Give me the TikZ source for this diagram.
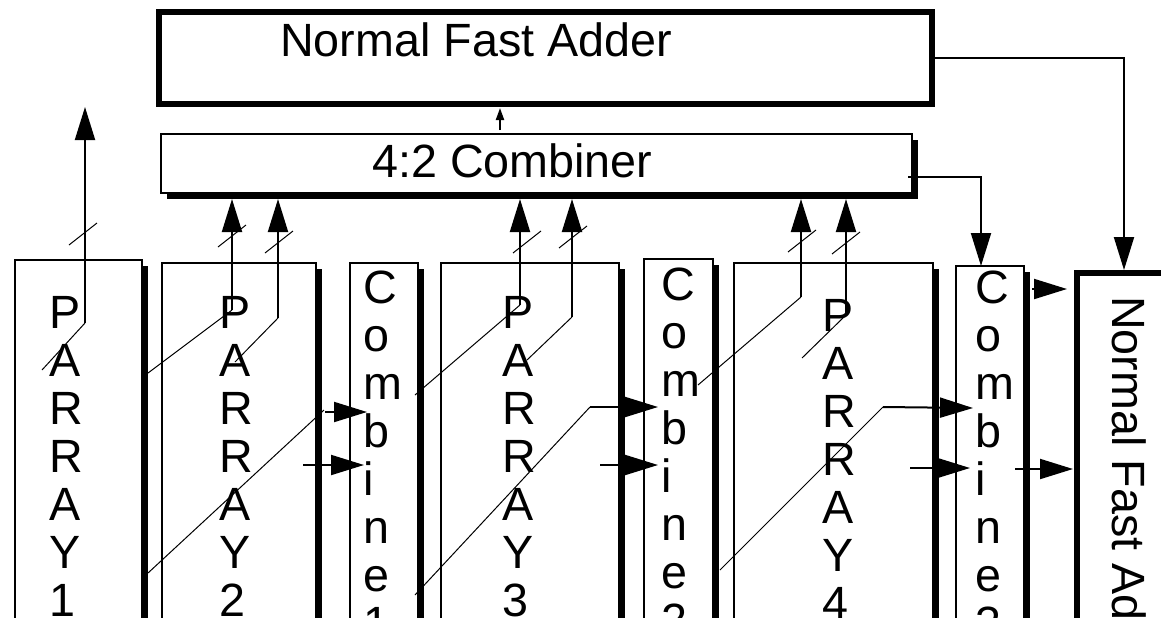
\documentclass[tikz,border=0pt]{standalone}
\usepackage{fontspec}
\setmainfont{Liberation Sans}
\usetikzlibrary{arrows.meta,shadows,fit}
\begin{document}
\begin{tikzpicture}[x=0.75pt,y=-0.75pt,
  box/.style={draw, line width=1.5pt, fill=white, inner sep=0pt,
    drop shadow={shadow xshift=4.5pt, shadow yshift=-4.5pt, fill=black, opacity=1}},
  thickbox/.style={draw, line width=4.5pt, fill=white, inner sep=0pt},
  lbl/.style={inner sep=0pt, font=\fontsize{35}{36}\selectfont, align=left},
  big/.style={line width=1.5pt, -{Triangle[length=24.75pt,width=15pt]}},
  small/.style={line width=1.5pt, -{Triangle[length=9pt,width=6pt]}},
  wire/.style={line width=0.75pt},
  busmark/.pic={\draw[line width=0.75pt] (-14,11) -- (14,-11);}
]
\clip (0,0) rectangle (1161,618);
\fill[white] (0,0) rectangle (1161,618);

% boxes
\node[thickbox, fit={(159,12) (932,104)}] (nfa) {};
\node[box, fit={(161,134) (912,193)}] (comb) {};
\node[box, fit={(15,260) (142,700)}] (p1) {};
\node[box, fit={(162,263) (316,700)}] (p2) {};
\node[box, fit={(350,263) (418,700)}] (c1) {};
\node[box, fit={(441,263) (619,700)}] (p3) {};
\node[box, fit={(644,259) (713,700)}] (c2) {};
\node[box, fit={(734,263) (933,700)}] (p4) {};
\node[box, fit={(956,266) (1024,700)}] (c3) {};
\node[thickbox, fit={(1077,273) (1250,700)}] (nfa2) {};

% labels (base anchor = baseline of the last line)
\node[lbl, anchor=base west] (tnfa) at (280,56) {Normal Fast Adder};
\node[lbl, anchor=base west] (tcomb) at (372,177) {4:2 Combiner};
\node[lbl, anchor=base west] (tp1) at (49,616) {P\\A\\R\\R\\A\\Y\\1};
\node[lbl, anchor=base west] (tp2) at (219,616) {P\\A\\R\\R\\A\\Y\\2};
\node[lbl, anchor=base west] (tp3) at (502,616) {P\\A\\R\\R\\A\\Y\\3};
\node[lbl, anchor=base west] (tp4) at (822,619) {P\\A\\R\\R\\A\\Y\\4};
\node[lbl, anchor=base west] (tc1) at (363,639) {C\\o\\m\\b\\i\\n\\e\\1};
\node[lbl, anchor=base west] (tc2) at (661,636) {C\\o\\m\\b\\i\\n\\e\\2};
\node[lbl, anchor=base west] (tc3) at (975,639) {C\\o\\m\\b\\i\\n\\e\\3};
\node[lbl, rotate=-90, anchor=base west] (tnfa2) at (1112,296) {Normal Fast Adder};

% coordinates
\coordinate (u1) at (500,130); \coordinate (u2) at (500,108);
\coordinate (r1) at (1124,270);
\coordinate (cr0) at (908,177); \coordinate (cr1) at (981,266);
\coordinate (a1s) at (85,323); \coordinate (a1t) at (85,107); \coordinate (a1d) at (42,370);
\coordinate (a2s) at (232,310); \coordinate (a2t) at (232,199); \coordinate (a2d) at (148,373);
\coordinate (a3s) at (278,318); \coordinate (a3t) at (278,199); \coordinate (a3d) at (235,362);
\coordinate (a4s) at (520,305); \coordinate (a4t) at (520,199); \coordinate (a4d) at (415,395);
\coordinate (a5s) at (572,317); \coordinate (a5t) at (572,199); \coordinate (a5d) at (527,360);
\coordinate (a6s) at (801,297); \coordinate (a6t) at (801,199); \coordinate (a6d) at (698,385);
\coordinate (a7s) at (846,315); \coordinate (a7t) at (846,199); \coordinate (a7d) at (802,358);
\coordinate (h1d) at (148,573); \coordinate (h1k) at (324,410); \coordinate (h1s) at (325,412); \coordinate (h1t) at (367,412);
\coordinate (h2s) at (303,465); \coordinate (h2t) at (364,465);
\coordinate (h3d) at (415,595); \coordinate (h3s) at (590,407); \coordinate (h3t) at (658,407);
\coordinate (h4s) at (600,465); \coordinate (h4t) at (658,465);
\coordinate (h5d) at (720,570); \coordinate (h5s) at (883,407); \coordinate (h5t) at (973,408);
\coordinate (h6s) at (910,468); \coordinate (h6t) at (970,468);
\coordinate (o1s) at (1032,289); \coordinate (o1t) at (1067,289);
\coordinate (o2s) at (1015,469); \coordinate (o2t) at (1073,469);

% connectors
\draw[small] (u1) -- (u2);
\draw[big] (nfa.east) -| (r1);
\draw[big] (cr0) -| (cr1);
\draw[big] (a1s) -- (a1t); \draw[wire] (a1s) -- (a1d);
\draw[big] (a2s) -- (a2t); \draw[wire] (a2s) -- (a2d);
\draw[big] (a3s) -- (a3t); \draw[wire] (a3s) -- (a3d);
\draw[big] (a4s) -- (a4t); \draw[wire] (a4s) -- (a4d);
\draw[big] (a5s) -- (a5t); \draw[wire] (a5s) -- (a5d);
\draw[big] (a6s) -- (a6t); \draw[wire] (a6s) -- (a6d);
\draw[big] (a7s) -- (a7t); \draw[wire] (a7s) -- (a7d);
\pic at (83,234) {busmark};
\pic at (232,236) {busmark};
\pic at (279,242) {busmark};
\pic at (527,242) {busmark};
\pic at (573,237) {busmark};
\pic at (802,241) {busmark};
\pic at (846,243) {busmark};
\draw[wire] (h1d) -- (h1k); \draw[big] (h1s) -- (h1t);
\draw[big] (h2s) -- (h2t);
\draw[wire] (h3d) -- (h3s); \draw[big] (h3s) -- (h3t);
\draw[big] (h4s) -- (h4t);
\draw[wire] (h5d) -- (h5s); \draw[big] (h5s) -- (h5t);
\draw[big] (h6s) -- (h6t);
\draw[big] (o1s) -- (o1t);
\draw[big] (o2s) -- (o2t);
\end{tikzpicture}
\end{document}
